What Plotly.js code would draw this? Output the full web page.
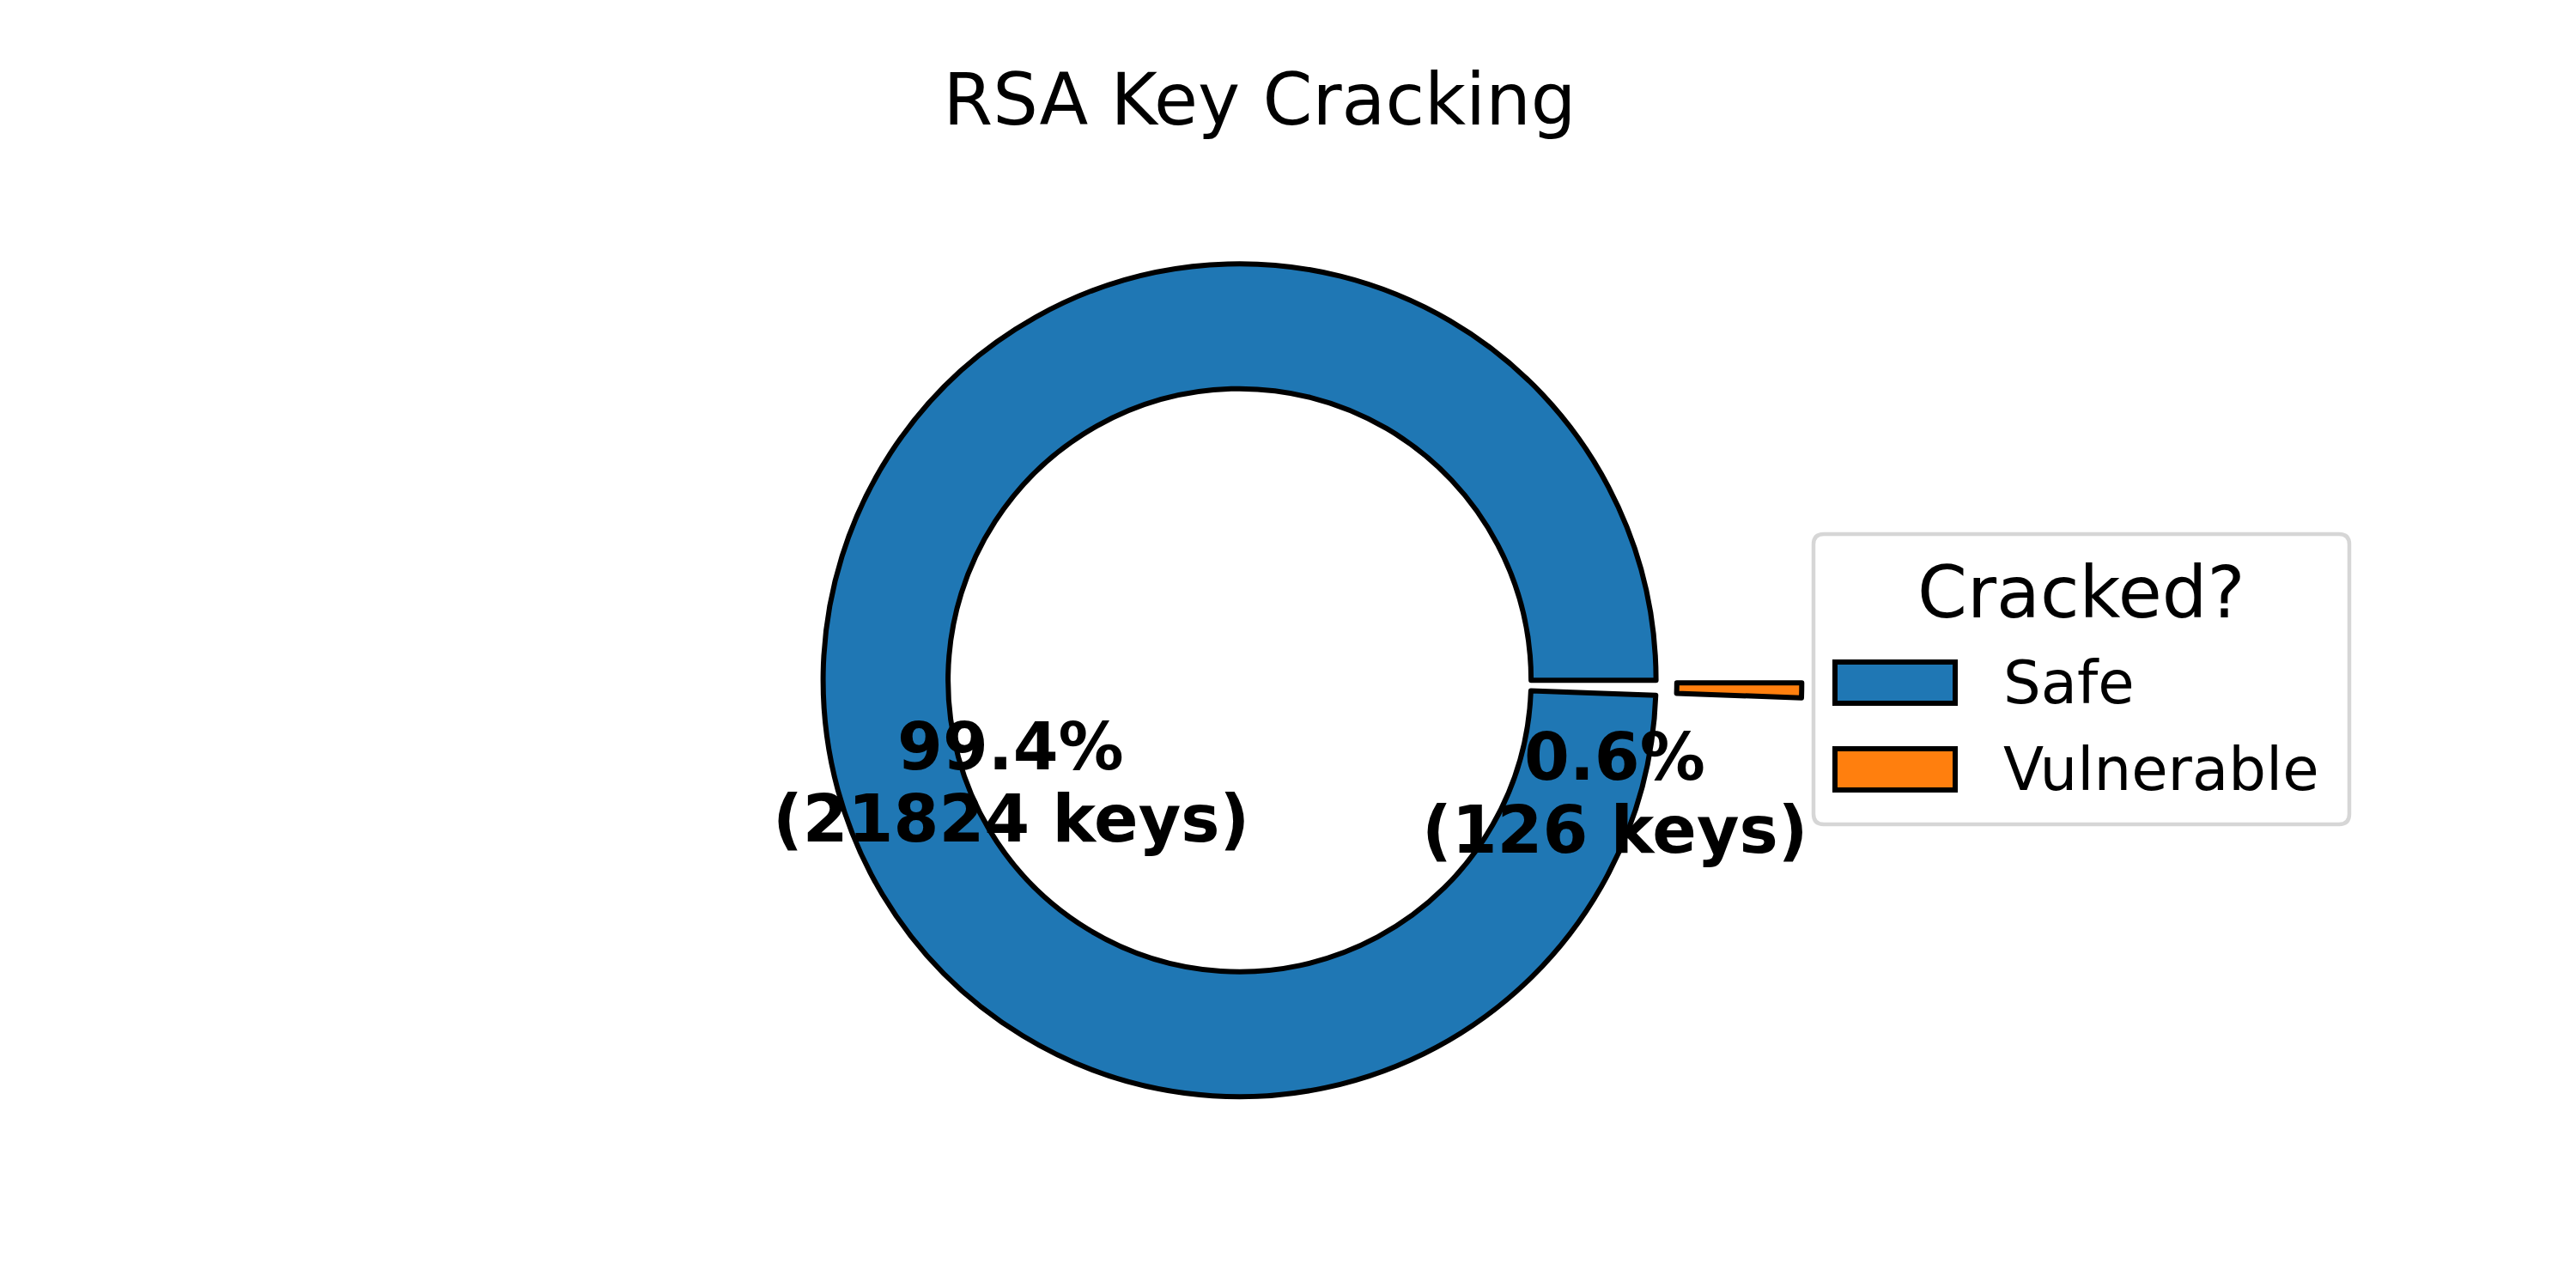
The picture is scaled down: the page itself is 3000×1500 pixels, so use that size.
<!DOCTYPE html>
<html><head><meta charset="utf-8">
<script src="https://cdn.plot.ly/plotly-3.0.1.min.js"></script>
<style>html,body{margin:0;padding:0;background:#fff;}</style>
</head><body>
<div id="chart" style="width:3000px;height:1500px;"></div>
<script>
// ---- data ----
const categories = ['Safe', 'Vulnerable'];
const keyCounts = [21824, 126];
const sliceColors = ['#1f77b4', '#ff7f0e'];
const explode = [0, 0.35];
const legendTitle = 'Cracked?';
const chartTitle = 'RSA Key Cracking';

// ---- layout helpers (pixel -> paper) ----
const W = 3000, H = 1500;
const px = x => x / W;
const py = y => 1 - y / H;
const FONT = 'DejaVu Sans, Verdana, sans-serif';

const total = keyCounts.reduce((a, b) => a + b, 0);
const pctLabels = keyCounts.map(v => (100 * v / total).toFixed(1) + '%');
const keyLabels = keyCounts.map(v => '(' + v + ' keys)');

// pie geometry: matplotlib starts first wedge at 3 o'clock going counterclockwise;
// plotly's counterclockwise mode ends the first slice at `rotation`.
const cx = 1443.6, cy = 792.2, R = 485;
const half = R * (1 + Math.max(...explode));
const rotation = 90 + 360 * keyCounts[1] / total;

const pie = {
  type: 'pie',
  labels: categories,
  values: keyCounts,
  marker: { colors: sliceColors, line: { color: '#000000', width: 6 } },
  hole: 0.7,
  pull: explode,
  rotation: rotation,
  direction: 'counterclockwise',
  sort: false,
  textinfo: 'none',
  hoverinfo: 'skip',
  showlegend: false,
  domain: { x: [px(cx - half), px(cx + half)], y: [py(cy + half), py(cy - half)] }
};

// label placement (layout only)
const labelPos = [{ x: 1177, y1: 870, y2: 953 }, { x: 1880, y1: 881, y2: 966 }];
const annotations = [];
categories.forEach((c, i) => {
  const p = labelPos[i];
  [pctLabels[i], keyLabels[i]].forEach((t, k) => {
    annotations.push({
      xref: 'paper', yref: 'paper', x: px(p.x), y: py(k === 0 ? p.y1 : p.y2),
      xanchor: 'center', yanchor: 'middle', showarrow: false,
      text: '<b>' + t + '</b>',
      font: { family: FONT, size: 76, color: '#000000' }
    });
  });
});

// custom legend (matplotlib style)
const lg = { x0: 2112, y0: 622, x1: 2736, y1: 960, rc: 12 };
function roundRect(b) {
  const r = b.rc;
  const P = (x, y) => px(x) + ',' + py(y);
  return 'M' + P(b.x0 + r, b.y0) + ' L' + P(b.x1 - r, b.y0) +
    ' Q' + P(b.x1, b.y0) + ' ' + P(b.x1, b.y0 + r) +
    ' L' + P(b.x1, b.y1 - r) + ' Q' + P(b.x1, b.y1) + ' ' + P(b.x1 - r, b.y1) +
    ' L' + P(b.x0 + r, b.y1) + ' Q' + P(b.x0, b.y1) + ' ' + P(b.x0, b.y1 - r) +
    ' L' + P(b.x0, b.y0 + r) + ' Q' + P(b.x0, b.y0) + ' ' + P(b.x0 + r, b.y0) + ' Z';
}
const shapes = [{
  type: 'path', xref: 'paper', yref: 'paper', path: roundRect(lg),
  line: { color: '#d6d6d6', width: 4.5 }, fillcolor: 'rgba(255,255,255,0.8)', layer: 'above'
}];
annotations.push({
  xref: 'paper', yref: 'paper', x: px(2423), y: py(690), xanchor: 'center', yanchor: 'middle',
  showarrow: false, text: legendTitle, font: { family: FONT, size: 83, color: '#000000' }
});
const itemY = [795, 896];
categories.forEach((c, i) => {
  shapes.push({
    type: 'rect', xref: 'paper', yref: 'paper',
    x0: px(2137), x1: px(2277), y0: py(itemY[i] + 24), y1: py(itemY[i] - 24),
    fillcolor: sliceColors[i], line: { color: '#000000', width: 6 }, layer: 'above'
  });
  annotations.push({
    xref: 'paper', yref: 'paper', x: px(2331), y: py(itemY[i]), xanchor: 'left', yanchor: 'middle',
    showarrow: false, text: c, font: { family: FONT, size: 69, color: '#000000' }
  });
});

const layout = {
  width: W, height: H,
  margin: { l: 0, r: 0, t: 0, b: 0 },
  paper_bgcolor: '#ffffff', plot_bgcolor: '#ffffff',
  showlegend: false,
  title: {
    text: chartTitle, font: { family: FONT, size: 83, color: '#000000' },
    x: px(1467), xref: 'paper', xanchor: 'center', y: py(116), yref: 'container', yanchor: 'middle'
  },
  annotations: annotations,
  shapes: shapes
};

Plotly.newPlot('chart', [pie], layout, { staticPlot: true, displayModeBar: false });
</script>
</body></html>
